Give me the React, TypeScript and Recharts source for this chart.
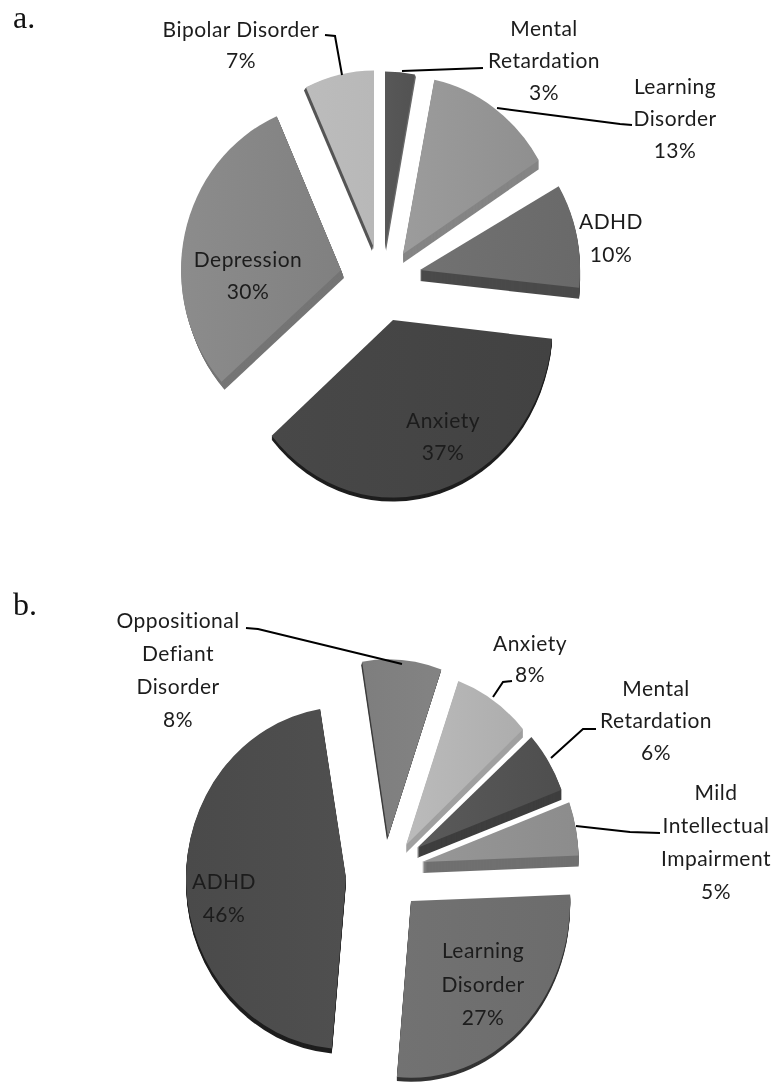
import React from "react";
import { PieChart, Pie, Sector } from "recharts";

const namesA = ["Mental Retardation", "Learning Disorder", "ADHD", "Anxiety", "Depression", "Bipolar Disorder"];
const valuesA = [3, 13, 10, 37, 30, 7];
const namesB = ["Oppositional Defiant Disorder", "Anxiety", "Mental Retardation", "Mild Intellectual Impairment", "Learning Disorder", "ADHD"];
const valuesB = [8, 8, 6, 5, 27, 46];

const linesA = [["Mental", "Retardation"], ["Learning", "Disorder"], ["ADHD"], ["Anxiety"], ["Depression"], ["Bipolar Disorder"]];
const linesB = [["Oppositional", "Defiant", "Disorder"], ["Anxiety"], ["Mental", "Retardation"], ["Mild", "Intellectual", "Impairment"], ["Learning", "Disorder"], ["ADHD"]];

const W = 774, H = 1084, RX = 160;
const CX_A = 380, CY_A = 270, CX_B = 380, CY_B = 880;

type Style = { ax: number; ay: number; dx: number; dy: number; k: number; s?: number; rot?: number; top: string; top2: string; side: string };
const styleA: Style[] = [
  { ax: 385, ay: 249, dx: 1, dy: 2, k: 1.11, rot: -0.5, top: "#585858", top2: "#525252", side: "#6a6a6a" },
  { ax: 403, ay: 254, dx: 0, dy: 9, k: 1.11, top: "#9c9c9c", top2: "#8f8f8f", side: "#858585" },
  { ax: 420, ay: 270, dx: 0, dy: 11, k: 1.05, rot: 2, top: "#727272", top2: "#696969", side: "#4a4a4a" },
  { ax: 393, ay: 320, dx: 0, dy: 4, k: 1.11, rot: 2, top: "#484848", top2: "#424242", side: "#1e1e1e" },
  { ax: 341, ay: 270, dx: 3, dy: 8, k: 1.05, rot: 1, top: "#8c8c8c", top2: "#808080", side: "#757575" },
  { ax: 374, ay: 248, dx: -2, dy: 3, k: 1.11, rot: -0.5, top: "#bcbcbc", top2: "#b8b8b8", side: "#555555" },
];
const styleB: Style[] = [
  { ax: 388, ay: 837, dx: -1, dy: 3, k: 1.11, top: "#7e7e7e", top2: "#838383", side: "#3c3c3c" },
  { ax: 406, ay: 845, dx: 0, dy: 8, k: 1.11, s: 0.98, top: "#bbbbbb", top2: "#adadad", side: "#a0a0a0" },
  { ax: 417, ay: 848, dx: 0, dy: 10, k: 1.07, s: 0.965, rot: -0.5, top: "#5a5a5a", top2: "#4e4e4e", side: "#3e3e3e" },
  { ax: 422, ay: 862, dx: 0, dy: 11, k: 1.11, s: 0.98, top: "#979797", top2: "#8c8c8c", side: "#707070" },
  { ax: 411, ay: 901, dx: 0, dy: 4, k: 1.11, s: 0.995, top: "#727272", top2: "#6c6c6c", side: "#333333" },
  { ax: 346, ay: 878, dx: 0, dy: 5, k: 1.07, top: "#4a4a4a", top2: "#4f4f4f", side: "#1e1e1e" },
];

const labelA = [
  { x: 544, y: 29, gap: 32 }, { x: 675, y: 87, gap: 32 }, { x: 611, y: 222, gap: 33 },
  { x: 443, y: 421, gap: 32 }, { x: 248, y: 260, gap: 32 }, { x: 241, y: 30, gap: 31 },
];
const labelB = [
  { x: 178, y: 621, gap: 33 }, { x: 530, y: 644, gap: 31 }, { x: 656, y: 689, gap: 32 },
  { x: 716, y: 793, gap: 33 }, { x: 483, y: 951, gap: 33.5 }, { x: 224, y: 882, gap: 33 },
];
const leaderA: (string | null)[] = [
  "402,71 483,68", "497,108 620,124 632,125", null, null, null, "325,35 335,36 342,75",
];
const leaderB: (string | null)[] = [
  "246,628 258,629 402,664", "493,697 503,682 512,681", "551,758 583,729 596,729", "576,826 630,832 660,833", null, null,
];

const makeShape = (styles: Style[], id: string, cx0: number, cy0: number) => (props: any) => {
  const st = styles[props.index] ?? styles[0];
  const { startAngle, endAngle } = props;
  const sc = st.s ?? 1;
  const place = (x: number, y: number) =>
    `translate(${x},${y}) scale(${sc},${sc * st.k}) rotate(${st.rot ?? 0}) translate(${-cx0},${-cy0})`;
  const sector = (fill: string) => (
    <Sector cx={cx0} cy={cy0} innerRadius={0} outerRadius={RX} startAngle={startAngle} endAngle={endAngle} fill={fill} stroke="none" />
  );
  const steps = Math.max(Math.abs(st.dx), Math.abs(st.dy));
  const layers = [];
  for (let i = steps; i >= 1; i--) {
    const t = i / steps;
    layers.push(<g key={i} transform={place(st.ax + st.dx * t, st.ay + st.dy * t)}>{sector(st.side)}</g>);
  }
  return (
    <g>
      {layers}
      <g transform={place(st.ax, st.ay)}>{sector(`url(#${id}${props.index})`)}</g>
    </g>
  );
};

const makeLabel = (lines: string[][], pos: { x: number; y: number; gap: number }[], values: number[]) => (props: any) => {
  const p = pos[props.index];
  const all = [...lines[props.index], `${values[props.index]}%`];
  return (
    <text key={props.index} textAnchor="middle" fontFamily="Lato" fontSize={21} letterSpacing={0.45} fill="#1c1c1c">
      {all.map((t, i) => (
        <tspan key={i} x={p.x} y={p.y + i * p.gap + 7}>{t}</tspan>
      ))}
    </text>
  );
};

const makeLine = (leaders: (string | null)[]) => (props: any) => {
  const pts = leaders[props.index];
  return pts ? <polyline key={props.index} points={pts} fill="none" stroke="#000" strokeWidth={2} /> : <g key={props.index} />;
};

const dataA = namesA.map((name, i) => ({ name, value: valuesA[i] }));
const dataB = namesB.map((name, i) => ({ name, value: valuesB[i] }));

const grads = (styles: Style[], id: string) =>
  styles.map((s, i) => (
    <linearGradient key={id + i} id={`${id}${i}`} x1="0" y1="0" x2="1" y2="0">
      <stop offset="0" stopColor={s.top} />
      <stop offset="1" stopColor={s.top2} />
    </linearGradient>
  ));

const shapeA = makeShape(styleA, "ga", CX_A, CY_A);
const shapeB = makeShape(styleB, "gb", CX_B, CY_B);

const mark: React.CSSProperties = { position: "absolute", left: 13, fontFamily: "'Liberation Serif'", fontSize: 32, color: "#111", lineHeight: "36px" };

export default function App() {
  return (
    <div style={{ position: "absolute", left: 0, top: 0, width: W, height: H, overflow: "hidden", background: "#fff", filter: "blur(0.45px)" }}>
      <div style={{ ...mark, top: -1 }}>a.</div>
      <div style={{ ...mark, top: 586 }}>b.</div>
      <PieChart width={W} height={H} margin={{ top: 0, right: 0, bottom: 0, left: 0 }}>
        <defs>
          {grads(styleA, "ga")}
          {grads(styleB, "gb")}
        </defs>
        <Pie data={dataA} dataKey="value" nameKey="name" cx={CX_A} cy={CY_A} outerRadius={RX} startAngle={89.5} endAngle={-270.5}
          stroke="none" isAnimationActive={false} shape={shapeA} inactiveShape={shapeA} activeShape={shapeA}
          label={makeLabel(linesA, labelA, valuesA)} labelLine={makeLine(leaderA)} />
        <Pie data={dataB} dataKey="value" nameKey="name" cx={CX_B} cy={CY_B} outerRadius={RX} startAngle={99.3} endAngle={-260.7}
          stroke="none" isAnimationActive={false} shape={shapeB} inactiveShape={shapeB} activeShape={shapeB}
          label={makeLabel(linesB, labelB, valuesB)} labelLine={makeLine(leaderB)} />
      </PieChart>
    </div>
  );
}
